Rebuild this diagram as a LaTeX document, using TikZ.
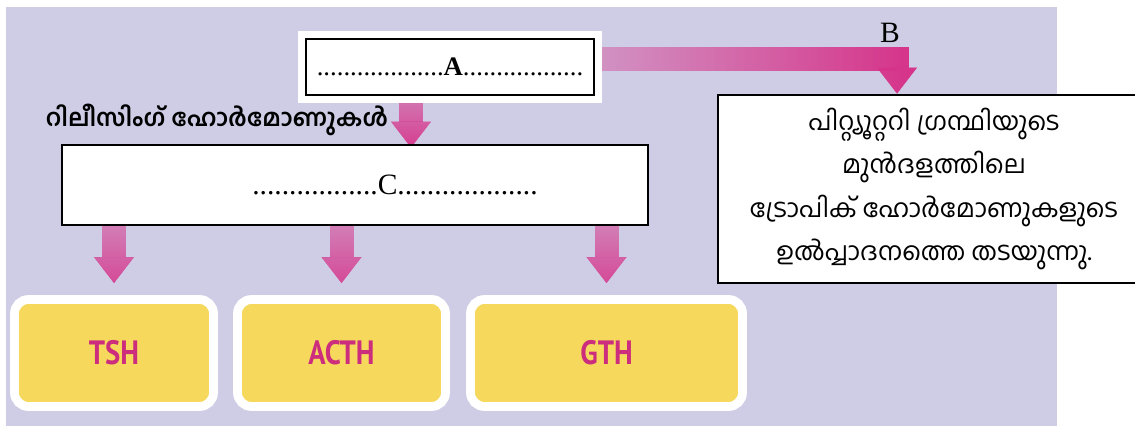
\documentclass[tikz,border=0pt]{standalone}
\usepackage{fontspec}
\setmainfont{Liberation Serif}
\newfontfamily\mlfont[Script=Malayalam]{Hind Kochi}
\newfontfamily\tagfont[FakeStretch=0.85]{PT Sans}
\usetikzlibrary{arrows.meta,positioning,fadings}

\pgfdeclarelayer{background}
\pgfsetlayers{background,main}

\definecolor{bglav}{RGB}{207,205,230}
\definecolor{pinkarrow}{RGB}{214,52,138}
\definecolor{boxyellow}{RGB}{245,216,92}
\definecolor{tagpink}{RGB}{205,45,125}

\tikzfading[name=arrowfade, top color=transparent!55, bottom color=transparent!0]
\tikzfading[name=bandfade, left color=transparent!65, right color=transparent!0]

\begin{document}
\begin{tikzpicture}[
    x=0.25mm, y=-0.25mm,
    ansbox/.style={draw, line width=0.7mm, fill=white, inner sep=0pt},
    notebox/.style={draw, line width=0.7mm, fill=white, minimum width=108mm, minimum height=47mm, align=center, font=\mlfont\fontsize{18}{31}\selectfont},
    hormone/.style={draw=white, line width=2.2mm, fill=boxyellow, rounded corners=3.5mm, minimum height=26.75mm, text=tagpink, font=\tagfont\bfseries\fontsize{24}{26}\selectfont},
    fatarrow/.style={draw=pinkarrow, line width=6mm, -{Triangle[width=10mm, length=6.5mm, line width=0.1pt]}}
]
\useasboundingbox (0,0) rectangle (1135,426);

\node[ansbox, minimum width=72mm, minimum height=14mm, font=\fontsize{19}{22}\selectfont,
      preaction={draw=white, line width=4mm, rounded corners=2mm}] (a) at (450,67)
    {...................\textbf{A}..................};
\node[font=\fontsize{21}{24}\selectfont] (blabel) at (890,33) {B};
\node[notebox] (b) at (934,189)
    {പിറ്റ്യൂറ്ററി ഗ്രന്ഥിയുടെ\\മുൻദളത്തിലെ\\ട്രോപിക് ഹോർമോണുകളുടെ\\ഉൽപ്പാദനത്തെ തടയുന്നു.};
\node[font=\mlfont\bfseries\fontsize{17}{20}\selectfont] (relabel) at (217,120) {റിലീസിംഗ് ഹോർമോണുകൾ};
\node[ansbox, minimum width=146.5mm, minimum height=20mm, font=\fontsize{21}{24}\selectfont] (c) at (355,185)
    {\hspace*{20mm}.................C...................};

\node[hormone, minimum width=49.75mm] (tsh) at (114,353) {TSH};
\node[hormone, minimum width=52mm] (acth) at (341.5,353) {ACTH};
\node[hormone, minimum width=68mm] (gth) at (606.5,353) {GTH};

\begin{pgfonlayer}{background}
\fill[bglav] (6,7) rectangle (1057,426);
% arrows run under the boxes
\draw[fatarrow, path fading=bandfade] ([yshift=2mm]a.east) -| ([xshift=-9.25mm]b.north);
\draw[fatarrow, path fading=arrowfade, shorten >=-1mm] ([xshift=-9.75mm]a.south) -- ([xshift=-9.75mm]a.south |- c.north);
\foreach \t in {tsh,acth,gth}
  \draw[fatarrow, path fading=arrowfade, shorten >=3mm] (c.south -| \t.north) -- (\t.north);
\end{pgfonlayer}
\end{tikzpicture}
\end{document}
